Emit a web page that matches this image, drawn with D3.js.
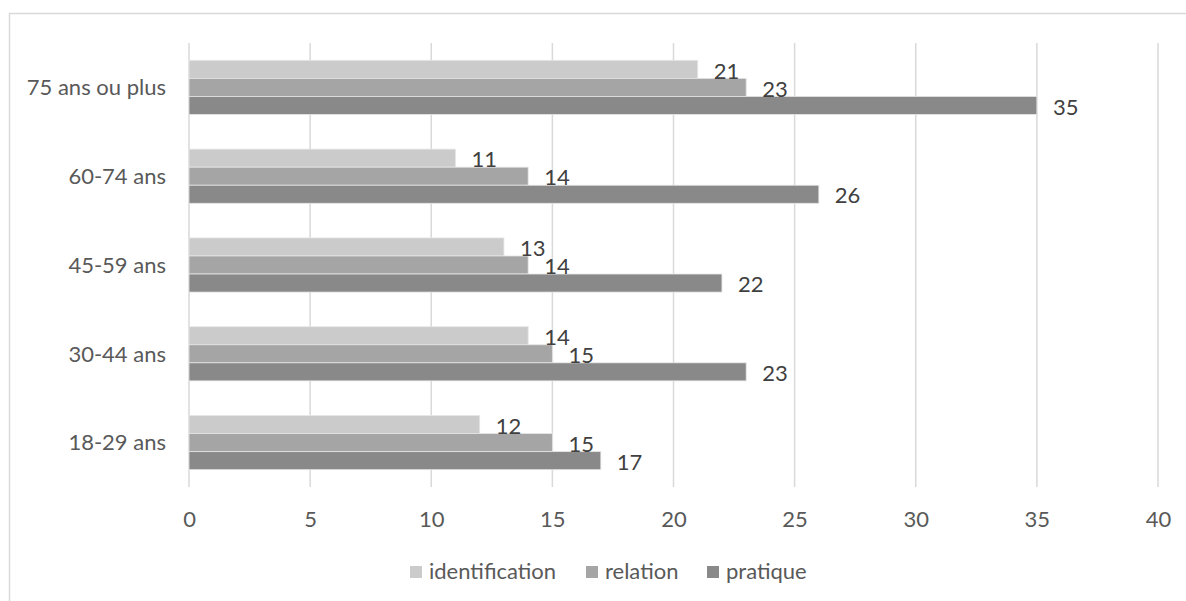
<!DOCTYPE html>
<html><head><meta charset="utf-8">
<script src="https://cdn.jsdelivr.net/npm/d3@7"></script>
<style>body{margin:0;background:#fff}svg{display:block}text{font-family:Lato,"Open Sans",sans-serif;fill:#595959}</style>
</head><body><svg id="c" width="1186" height="601"></svg>
<script>
const categories = ["18-29 ans","30-44 ans","45-59 ans","60-74 ans","75 ans ou plus"];
const seriesNames = ["identification","relation","pratique"];
const identification = [12,14,13,11,21];
const relation = [15,15,14,14,23];
const pratique = [17,23,22,26,35];
const xTicks = [0,5,10,15,20,25,30,35,40];
const colors = ["#cbcbcb","#a5a5a5","#898989"];
const seriesValues = [identification, relation, pratique];
const FS = 22;

const svg = d3.select("#c");
// chart frame
svg.append("path").attr("d","M9.5,601 V13.5 H1186").attr("fill","none").attr("stroke","#d9d9d9").attr("stroke-width",1.5);

const x = d3.scaleLinear().domain([0,40]).range([189,1158]);
const y = d3.scaleBand().domain(categories.slice().reverse()).range([43,487]).paddingInner(0.39).paddingOuter(0.195);
const yi = d3.scaleBand().domain(seriesNames).range([0,y.bandwidth()]);

// gridlines
svg.append("g").selectAll("line").data(xTicks).join("line")
  .attr("x1",d=>x(d)).attr("x2",d=>x(d)).attr("y1",43).attr("y2",487)
  .attr("stroke","#d9d9d9").attr("stroke-width",1.5);

// x axis labels
const xa = svg.append("g").attr("transform","translate(0,527)")
  .call(d3.axisBottom(x).tickValues(xTicks).tickSize(0).tickPadding(0));
xa.select(".domain").remove();
xa.selectAll("text").attr("dy",0).attr("font-size",FS).style("fill","#595959").attr("font-family","Lato");

// y axis labels
const ya = svg.append("g").attr("transform","translate(166,0)")
  .call(d3.axisLeft(y).tickSize(0).tickPadding(0));
ya.select(".domain").remove();
ya.selectAll("text").attr("font-size",FS).attr("dy","0.35em").style("fill","#595959").attr("font-family","Lato");

// bars
const rows = [];
categories.forEach((c,i)=>seriesNames.forEach((s,j)=>rows.push({c,s,j,v:seriesValues[j][i]})));
svg.append("g").selectAll("rect").data(rows).join("rect")
  .attr("x",x(0)).attr("y",d=>y(d.c)+yi(d.s)).attr("width",d=>x(d.v)-x(0)).attr("height",yi.bandwidth())
  .attr("fill",d=>colors[d.j]).attr("stroke","#e6e6e6").attr("stroke-width",0.8);

svg.append("g").selectAll("text").data(rows).join("text")
  .attr("x",d=>x(d.v)+16).attr("y",d=>y(d.c)+yi(d.s)+yi.bandwidth()/2+1.5).attr("dy","0.35em")
  .attr("font-size",FS).style("fill","#404040").text(d=>d.v);

// legend
const legX = [410,586,707];
const lg = svg.append("g").selectAll("g").data(seriesNames).join("g")
  .attr("transform",(d,i)=>`translate(${legX[i]},0)`);
lg.append("rect").attr("x",0).attr("y",566).attr("width",12).attr("height",12).attr("fill",(d,i)=>colors[i]);
lg.append("text").attr("x",19).attr("y",579).attr("font-size",FS).text(d=>d);
</script></body></html>
